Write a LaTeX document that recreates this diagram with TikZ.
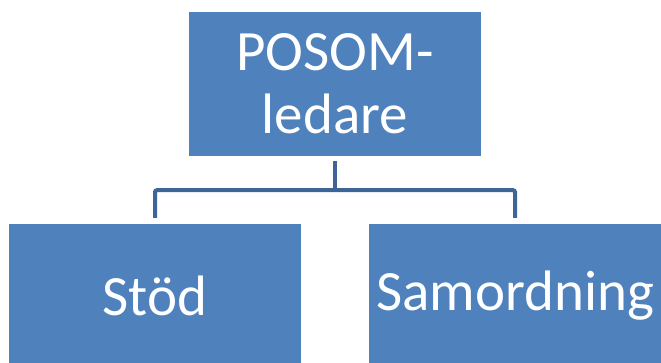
\documentclass[tikz,border=0pt]{standalone}
\usepackage{fontspec}
\setmainfont{Carlito}
\definecolor{boxblue}{HTML}{4F81BD}
\definecolor{linkblue}{HTML}{3D6598}
\begin{document}
\begin{tikzpicture}[x=1pt,y=-1pt,
  box/.style={fill=boxblue, draw=none, minimum width=292pt, minimum height=144pt,
    inner sep=0pt, text=white, font=\fontsize{57}{63}\selectfont, align=center},
  link/.style={draw=linkblue, line width=4pt, rounded corners=2pt}]
\useasboundingbox (0,0) rectangle (661,363);
\clip (0,0) rectangle (661,363);
\node[box] (top) at (335,84) {POSOM-\\ledare};
\node[box] (l) at (155,296) {Stöd};
\node[box] (r) at (515,296) {Samordning};
\draw[link] ([yshift=-5pt]top.south) -- ++(0,29) coordinate (mid);
\draw[link] ([yshift=6pt]l.north) |- (mid) -| ([yshift=6pt]r.north);
\end{tikzpicture}
\end{document}
